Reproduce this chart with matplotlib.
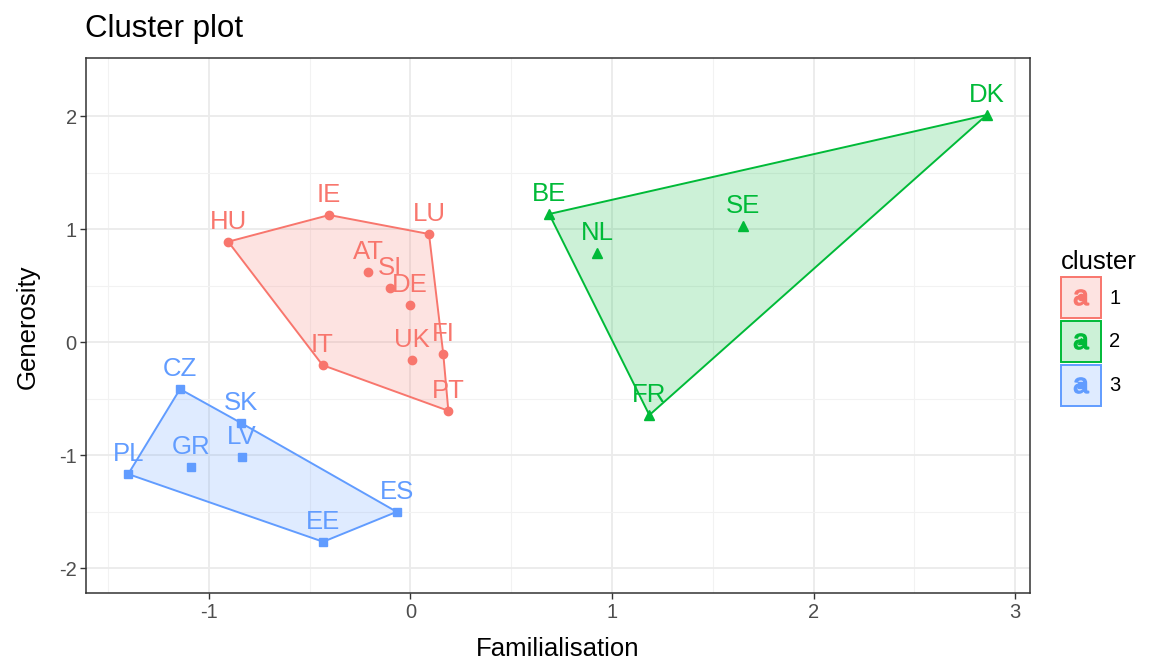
import matplotlib
matplotlib.use("Agg")
import matplotlib.pyplot as plt
import numpy as np
from matplotlib.lines import Line2D
from matplotlib.patches import Patch, Polygon
from matplotlib.legend_handler import HandlerTuple, HandlerLine2D

plt.rcParams["font.family"] = ["Liberation Sans", "DejaVu Sans"]
plt.rcParams["axes.unicode_minus"] = False
plt.rcParams["mathtext.fontset"] = "custom"
plt.rcParams["mathtext.rm"] = "Liberation Sans"

# ----- data -----------------------------------------------------------------

countries = ["HU", "IE", "LU", "AT", "SI", "DE", "UK", "FI", "IT", "PT",
             "DK", "BE", "NL", "SE", "FR",
             "CZ", "SK", "LV", "GR", "PL", "ES", "EE"]
familialisation = [-0.904, -0.403, 0.092, -0.209, -0.102, -0.002, 0.006, 0.163, -0.436, 0.188,
                   2.858, 0.688, 0.927, 1.651, 1.185,
                   -1.143, -0.842, -0.837, -1.090, -1.400, -0.068, -0.433]
generosity = [0.888, 1.124, 0.956, 0.622, 0.475, 0.327, -0.159, -0.109, -0.204, -0.608,
              2.009, 1.133, 0.785, 1.029, -0.646,
              -0.416, -0.714, -1.021, -1.109, -1.168, -1.502, -1.767]
cluster = [1, 1, 1, 1, 1, 1, 1, 1, 1, 1,
           2, 2, 2, 2, 2,
           3, 3, 3, 3, 3, 3, 3]

cluster_ids = [1, 2, 3]
colors = {1: "#F8766D", 2: "#00BA38", 3: "#619CFF"}
markers = {1: "o", 2: "^", 3: "s"}
msizes = {1: 6.0, 2: 7.0, 3: 5.5}
FILL_ALPHA = 0.2


def convex_hull(pts):
    """Andrew's monotone chain, returns hull vertices counter-clockwise."""
    pts = sorted(map(tuple, pts))
    if len(pts) < 3:
        return pts

    def cross(o, a, b):
        return (a[0] - o[0]) * (b[1] - o[1]) - (a[1] - o[1]) * (b[0] - o[0])

    lower, upper = [], []
    for p in pts:
        while len(lower) >= 2 and cross(lower[-2], lower[-1], p) <= 0:
            lower.pop()
        lower.append(p)
    for p in reversed(pts):
        while len(upper) >= 2 and cross(upper[-2], upper[-1], p) <= 0:
            upper.pop()
        upper.append(p)
    return lower[:-1] + upper[:-1]


class CenteredMarkerHandler(HandlerLine2D):
    """Line2D legend handler that keeps the marker in the middle of a tall key."""

    def create_artists(self, legend, orig_handle, xdescent, ydescent,
                       width, height, fontsize, trans):
        artists = super().create_artists(legend, orig_handle, xdescent, ydescent,
                                         width, height, fontsize, trans)
        for a in artists:
            a.set_ydata(np.asarray(a.get_ydata()) - ydescent / 2)
        return artists


x = np.array(familialisation)
y = np.array(generosity)
cl = np.array(cluster)

fig = plt.figure(figsize=(11.56, 6.59), dpi=100)
ax = fig.add_axes([0.0748, 0.1002, 0.891 - 0.0748, 0.9114 - 0.1002])

for k in cluster_ids:
    m = cl == k
    hull = convex_hull(np.column_stack([x[m], y[m]]))
    ax.add_patch(Polygon(hull, closed=True, facecolor=colors[k], alpha=FILL_ALPHA,
                         edgecolor="none", zorder=2))
    ax.add_patch(Polygon(hull, closed=True, facecolor="none",
                         edgecolor=colors[k], lw=1.4, zorder=3))
    ax.plot(x[m], y[m], ls="none", marker=markers[k], ms=msizes[k],
            color=colors[k], zorder=4)
    for name, xi, yi in zip(np.array(countries)[m], x[m], y[m]):
        ax.annotate(name, (xi, yi), xytext=(0, 9.5), textcoords="offset points",
                    ha="center", va="baseline", fontsize=18.5,
                    color=colors[k], zorder=5)

ax.set_xlim(-1.607, 3.073)
ax.set_ylim(-2.22, 2.51)
ax.set_xticks([-1, 0, 1, 2, 3])
ax.set_yticks([-2, -1, 0, 1, 2])
ax.set_xticks([-1.5, -0.5, 0.5, 1.5, 2.5], minor=True)
ax.set_yticks([-1.5, -0.5, 0.5, 1.5], minor=True)
ax.grid(which="major", color="#EBEBEB", lw=1.3)
ax.grid(which="minor", color="#F2F2F2", lw=0.8)
ax.set_axisbelow(True)
ax.tick_params(which="major", length=4, width=1.0, color="#333333",
               labelsize=14.5, labelcolor="#4D4D4D", pad=3)
ax.tick_params(which="minor", length=0)
for s in ax.spines.values():
    s.set_color("#333333")
    s.set_linewidth(1.1)

fig.text(85 / 1156, 1 - 37 / 659, "Cluster plot", fontsize=22.5,
         ha="left", va="baseline")
fig.text(558 / 1156, 1 - 656 / 659, "Familialisation", fontsize=18.5,
         ha="center", va="baseline")
fig.text(28 / 1156, 0.5047, "Generosity", fontsize=18.5, rotation=90,
         ha="center", va="center")

# legend keys: shaded box with a letter and the point shape on top
handles = []
for k in cluster_ids:
    box = Patch(facecolor=matplotlib.colors.to_rgba(colors[k], FILL_ALPHA),
                edgecolor=colors[k], lw=1.4)
    letter = Line2D([], [], ls="none", marker="$\\mathrm{a}$", ms=11,
                    color=colors[k])
    shape = Line2D([], [], ls="none", marker=markers[k], ms=4.5, color=colors[k])
    handles.append((box, letter, shape))

leg = fig.legend(handles, [str(k) for k in cluster_ids],
                 handler_map={tuple: HandlerTuple(ndivide=1, pad=0),
                              Line2D: CenteredMarkerHandler()},
                 loc="upper left", bbox_to_anchor=(1061 / 1156, 1 - 250 / 659),
                 title="cluster", title_fontsize=18.5, fontsize=14.5,
                 frameon=False, handlelength=2.0, handleheight=2.75,
                 handletextpad=0.4, labelspacing=0.15, borderpad=0,
                 borderaxespad=0, alignment="left")

fig.savefig("out.png", dpi=100)
